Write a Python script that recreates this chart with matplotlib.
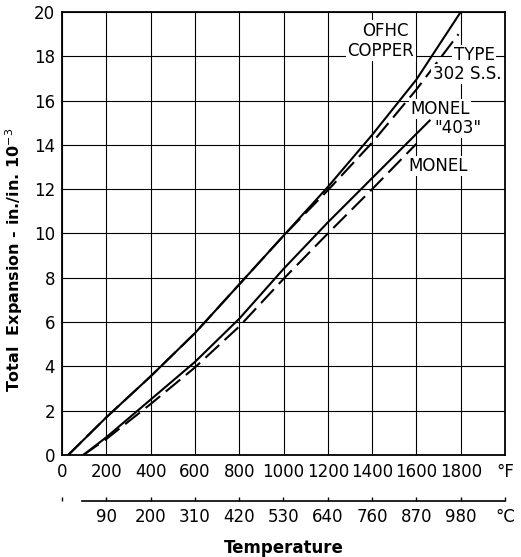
import matplotlib

matplotlib.use("Agg")
import matplotlib.pyplot as plt  # noqa: E402

# values (temperature in deg F, expansion in in./in. x 1e-3)
COPPER_T = [28, 200, 400, 600, 800, 1000, 1200, 1400, 1600, 1800]
COPPER_V = [0, 1.7, 3.55, 5.5, 7.7, 9.9, 12.1, 14.45, 16.95, 20.0]

SS302_T = [28, 200, 400, 600, 800, 1000, 1200, 1400, 1600, 1790]
SS302_V = [0, 1.7, 3.55, 5.5, 7.7, 9.9, 11.95, 14.1, 16.5, 19.0]

MONEL403_T = [96, 200, 400, 600, 800, 1000, 1200, 1400, 1600, 1660]
MONEL403_V = [0, 0.8, 2.5, 4.2, 6.15, 8.4, 10.5, 12.5, 14.5, 15.1]

MONEL_T = [96, 200, 400, 600, 800, 1000, 1200, 1400, 1600]
MONEL_V = [0, 0.72, 2.3, 3.95, 5.8, 7.95, 10.0, 12.0, 14.05]

F_TICKS = [0, 200, 400, 600, 800, 1000, 1200, 1400, 1600, 1800, 2000]
F_LABELS = ["0", "200", "400", "600", "800", "1000", "1200", "1400", "1600", "1800", "°F"]
C_TICKS = [0, 200, 400, 600, 800, 1000, 1200, 1400, 1600, 1800, 2000]
C_LABELS = ["", "90", "200", "310", "420", "530", "640", "760", "870", "980", "°C"]
Y_TICKS = [0, 2, 4, 6, 8, 10, 12, 14, 16, 18, 20]

FS = 12
LW = 1.5
DASH = (9, 3.5)

fig = plt.figure(figsize=(5.21, 5.57), dpi=100)
ax = fig.add_axes([62 / 521, 1 - 455 / 557, 443 / 521, 443 / 557])
ax.set_xlim(0, 2000)
ax.set_ylim(0, 20)

ax.set_xticks(F_TICKS)
ax.set_xticklabels(F_LABELS)
ax.set_yticks(Y_TICKS)
ax.tick_params(length=0, labelsize=FS, pad=6)
ax.tick_params(axis="y", pad=5)
ax.grid(True, color="black", lw=0.8)
for s in ax.spines.values():
    s.set_linewidth(1.3)

ax.plot(COPPER_T, COPPER_V, color="black", lw=LW, zorder=4)
ax.plot(SS302_T, SS302_V, color="black", lw=LW, dashes=DASH, zorder=3)
ax.plot(MONEL403_T, MONEL403_V, color="black", lw=LW, zorder=4)
ax.plot(MONEL_T, MONEL_V, color="black", lw=LW, dashes=DASH, zorder=3)

bg = dict(facecolor="white", edgecolor="none", pad=1)
ax.text(1458, 19.15, "OFHC", ha="center", va="center", fontsize=FS, bbox=bg, zorder=5)
ax.text(1440, 18.25, "COPPER", ha="center", va="center", fontsize=FS, bbox=bg, zorder=5)
ax.text(1860, 18.05, "TYPE", ha="center", va="center", fontsize=FS, bbox=bg, zorder=5)
ax.text(1828, 17.2, "302 S.S.", ha="center", va="center", fontsize=FS, bbox=bg, zorder=5)
ax.text(1707, 15.62, "MONEL", ha="center", va="center", fontsize=FS, bbox=bg, zorder=5)
ax.text(1788, 14.76, '"403"', ha="center", va="center", fontsize=FS, bbox=bg, zorder=5)
ax.text(1697, 13.05, "MONEL", ha="center", va="center", fontsize=FS, bbox=bg, zorder=5)

ax.set_ylabel("Total  Expansion - in./in. 10$^{-3}$", fontsize=11.5, fontweight="bold")
ax.yaxis.set_label_coords(-0.083, 0.44)

# Celsius scale below the Fahrenheit labels
sec = ax.secondary_xaxis(-0.104)
sec.set_xticks(C_TICKS)
sec.set_xticklabels(C_LABELS)
sec.tick_params(direction="in", length=3, width=1, labelsize=FS, pad=5)
sec.spines["bottom"].set_bounds(90, 2000)
sec.spines["bottom"].set_linewidth(1.2)
sec.set_xlabel("Temperature", fontsize=12, fontweight="bold", labelpad=9)

fig.savefig("out.png", dpi=100)
